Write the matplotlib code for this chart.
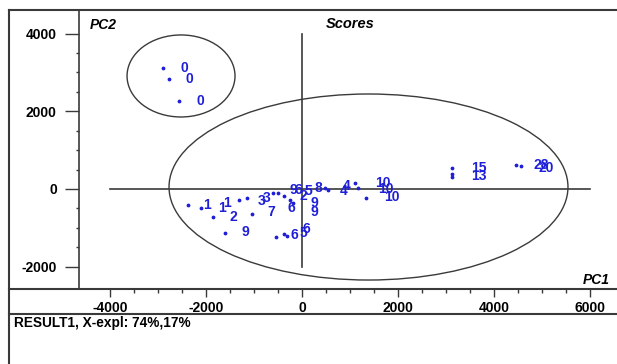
import matplotlib.pyplot as plt
from matplotlib.patches import Ellipse
from matplotlib.lines import Line2D
from matplotlib.ticker import MultipleLocator

plt.rcParams['font.family'] = ['Liberation Sans', 'DejaVu Sans']
plt.rcParams['axes.unicode_minus'] = False

# sample dots (PC1, PC2 scores)
dot_x = [-2900, -2774, -2565,
         -2378, -2107, -1857, -1606, -1314, -1147, -1043,
         -605, -501, -376, -250, -188, -542, -376, -313,
         480, 542, 1105, 1168, 1335,
         3128, 3128, 3128, 4463, 4567]
dot_y = [3115, 2831, 2265,
         -412, -489, -721, -1133, -283, -232, -644,
         -103, -103, -180, -283, -360, -1236, -1158, -1210,
         26, -26, 154, 26, -232,
         541, 386, 309, 618, 592]

# sample names as placed in the plot
lab_x = [-2461, -2357, -2128,
         -1982, -1669, -1565, -1439, -1189, -834, -730, -647, -229,
         -188, -83, 21, 125, 334, 250, 250,
         -167, 21, 83,
         876, 939, 1690, 1752, 1877,
         3692, 3692, 4986, 5090]
lab_y = [3115, 2831, 2265,
         -412, -489, -360, -721, -1107, -309, -232, -592, -489,
         -26, -26, -180, -51, 26, -360, -592,
         -1184, -1133, -1030,
         -51, 77, 154, 0, -206,
         541, 335, 618, 541]
lab_txt = ['0', '0', '0',
           '1', '1', '1', '2', '9', '3', '3', '7', '6',
           '9', '6', '2', '5', '8', '9', '9',
           '6', '5', '6',
           '4', '4', '10', '10', '10',
           '15', '13', '28', '20']

W, H = 617, 364
fig = plt.figure(figsize=(W / 100, H / 100), dpi=100)


def fx(px):
    return px / W


def fy(py):
    return 1 - py / H


ax = fig.add_axes([fx(79), fy(289), fx(617) - fx(79), fy(10) - fy(289)])
ax.set_xlim(-4651, 6570)
ax.set_ylim(-2574, 4607)

blue = '#1f1fd8'
grey = '#3a3a3a'

# crosshair
ax.plot([-4000, 6000], [0, 0], color=grey, lw=1.2)
ax.plot([0, 0], [-2000, 4000], color=grey, lw=1.2)

# group ellipses
ax.add_patch(Ellipse((-2523, 2909), 2252, 2111, fill=False, ec=grey, lw=1))
ax.add_patch(Ellipse((1387, 51), 8321, 4788, fill=False, ec=grey, lw=1))

ax.scatter(dot_x, dot_y, s=3, color=blue, zorder=3)
for x, y, t in zip(lab_x, lab_y, lab_txt):
    ax.text(x, y, t, color=blue, fontsize=10, fontweight='bold',
            ha='center', va='center', zorder=4)

for s in ['top', 'right']:
    ax.spines[s].set_visible(False)
for s in ['left', 'bottom']:
    ax.spines[s].set_color(grey)
    ax.spines[s].set_linewidth(1.2)

ax.xaxis.set_major_locator(MultipleLocator(2000))
ax.yaxis.set_major_locator(MultipleLocator(2000))
ax.set_xticks([t for t in range(-4000, 6001, 500) if t % 2000], minor=True)
ax.set_yticks([t for t in range(-2000, 4001, 500) if t % 2000], minor=True)
ax.tick_params(axis='y', which='major', length=10, width=1, color=grey,
               labelsize=10, pad=6)
ax.tick_params(axis='y', which='minor', length=2.5, width=1, color=grey)
ax.tick_params(axis='x', which='major', length=6, width=1, color=grey,
               labelsize=10, pad=3)
ax.tick_params(axis='x', which='minor', length=3, width=1, color=grey)
for lab in ax.get_xticklabels() + ax.get_yticklabels():
    lab.set_fontweight('bold')

# frame lines of the plot window
for (x0, y0, x1, y1) in [(9, 10, 617, 10), (9, 10, 9, 364),
                         (9, 289, 617, 289), (9, 314, 617, 314)]:
    fig.add_artist(Line2D([fx(x0), fx(x1)], [fy(y0), fy(y1)], color=grey, lw=1.5))

fig.text(fx(90), fy(25), 'PC2', fontsize=10, fontweight='bold', style='italic',
         va='center')
fig.text(fx(326), fy(24), 'Scores', fontsize=10.5, fontweight='bold', style='italic',
         va='center')
fig.text(fx(610), fy(280), 'PC1', fontsize=10, fontweight='bold', style='italic',
         va='center', ha='right')
fig.text(fx(14), fy(323), 'RESULT1, X-expl: 74%,17%', fontsize=9.8,
         fontweight='bold', va='center')

fig.savefig('out.png', dpi=100)
